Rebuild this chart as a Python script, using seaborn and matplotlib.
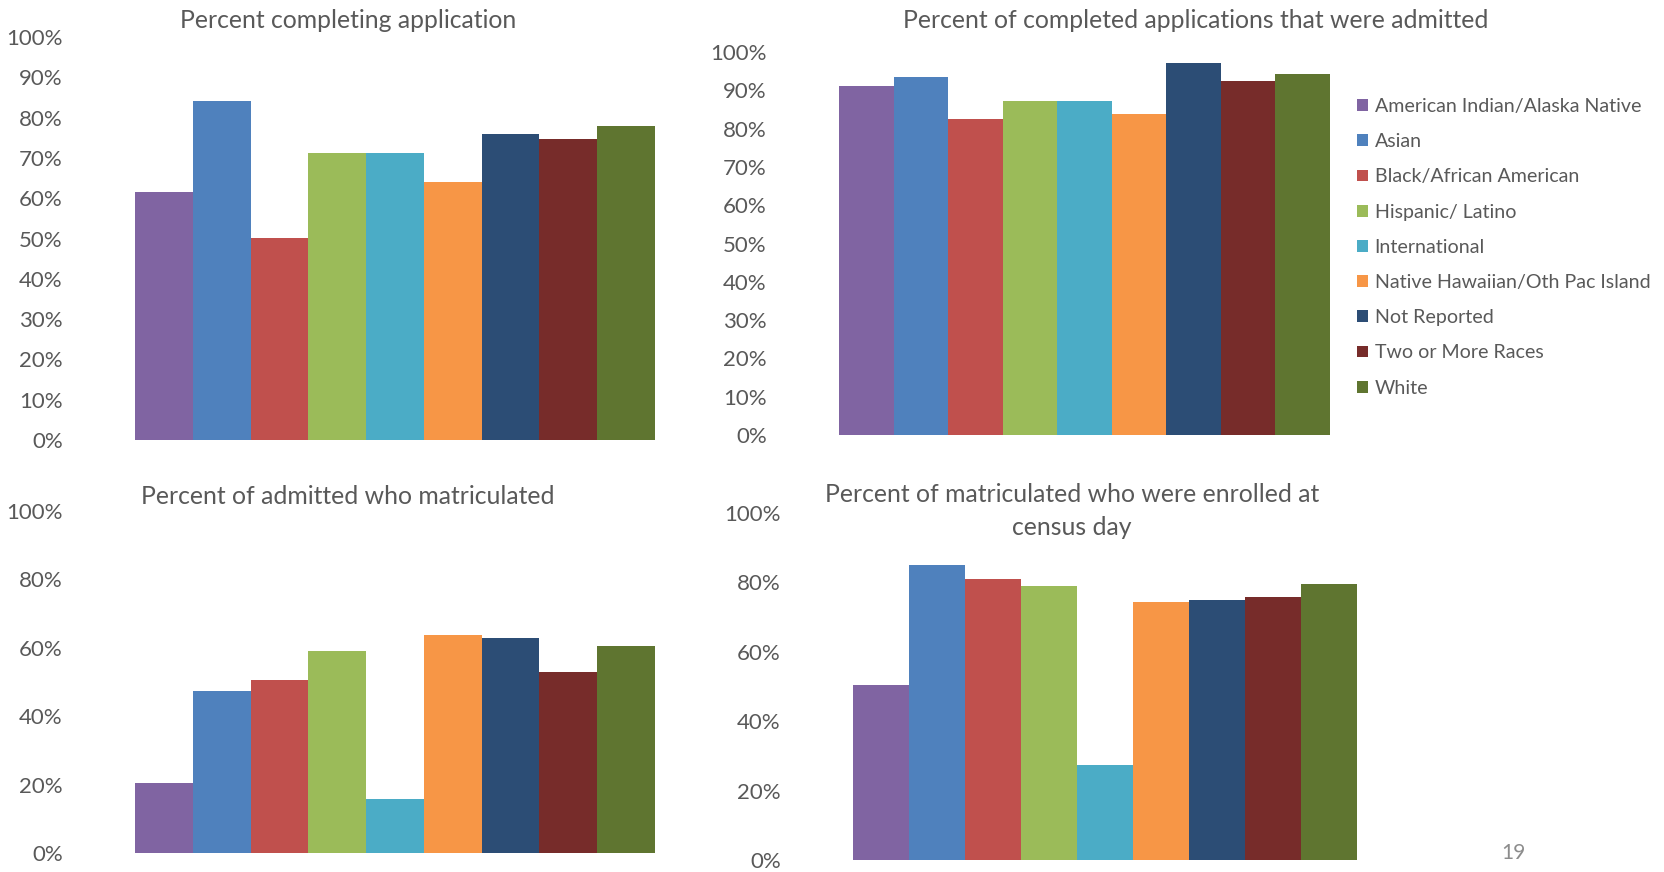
import matplotlib
matplotlib.use("Agg")
import matplotlib.pyplot as plt
import seaborn as sns
import pandas as pd
from matplotlib.ticker import FuncFormatter

categories = [
    "American Indian/Alaska Native",
    "Asian",
    "Black/African American",
    "Hispanic/ Latino",
    "International",
    "Native Hawaiian/Oth Pac Island",
    "Not Reported",
    "Two or More Races",
    "White",
]
colors = ["#8064A2", "#4F81BD", "#C0504D", "#9BBB59", "#4BACC6",
          "#F79646", "#2C4D75", "#772C2A", "#5F7530"]

completing = [61.5, 84.0, 50.2, 71.3, 71.3, 64.1, 76.0, 74.8, 78.0]
admitted = [91.0, 93.6, 82.6, 87.3, 87.3, 83.9, 97.2, 92.3, 94.3]
matriculated = [20.4, 47.5, 50.7, 59.1, 15.7, 63.8, 62.9, 53.0, 60.6]
enrolled = [50.4, 84.9, 81.1, 78.9, 27.5, 74.3, 74.8, 75.7, 79.4]

titles = [
    "Percent completing application",
    "Percent of completed applications that were admitted",
    "Percent of admitted who matriculated",
    "Percent of matriculated who were enrolled at\ncensus day",
]

sns.set_theme(style="white")
plt.rcParams["font.family"] = ["Lato", "DejaVu Sans"]
GRAY = "#595959"

W, H = 1665, 872
fig = plt.figure(figsize=(W / 100, H / 100), dpi=100)
palette = dict(zip(categories, colors))


def make_ax(x0, x1, ybase, ytop):
    return fig.add_axes([x0 / W, 1 - ybase / H, (x1 - x0) / W, (ybase - ytop) / H])


panels = [
    (make_ax(135, 655, 440, 37), completing, 10, (348, 21)),
    (make_ax(839, 1330, 435, 52), admitted, 10, (1196, 21)),
    (make_ax(135, 655, 853, 511), matriculated, 20, (348, 496)),
    (make_ax(853, 1357, 860, 513), enrolled, 20, (1072, 511)),
]

for i, (ax, vals, step, (tx, ty)) in enumerate(panels):
    df = pd.DataFrame({"cat": categories, "val": vals})
    sns.barplot(data=df, x="cat", y="val", hue="cat", palette=palette,
                width=1.0, dodge=False, legend=(i == 1), ax=ax,
                saturation=1, linewidth=0)
    ax.set_xlim(-0.5, len(categories) - 0.5)
    ax.set_ylim(0, 100)
    ax.set_yticks(range(0, 101, step))
    ax.yaxis.set_major_formatter(FuncFormatter(lambda v, p: f"{int(v)}%"))
    ax.tick_params(axis="y", length=0, pad=52, labelsize=16, labelcolor=GRAY)
    ax.set_xticks([])
    ax.set_xlabel("")
    ax.set_ylabel("")
    for sp in ax.spines.values():
        sp.set_visible(False)
    for lab in ax.get_yticklabels():
        lab.set_horizontalalignment("right")
    fig.text(tx / W, 1 - ty / H, titles[i], ha="center", va="center",
             fontsize=17.8, color=GRAY, linespacing=1.55)

ax2 = panels[1][0]
handles, labels = ax2.get_legend_handles_labels()
leg = ax2.legend(handles, labels, loc="upper left",
                 bbox_to_anchor=(1357 / W, 1 - 98 / H),
                 bbox_transform=fig.transFigure, frameon=False,
                 handlelength=0.55, handleheight=0.55, handletextpad=0.35,
                 labelspacing=0.93, fontsize=14.1, borderaxespad=0, borderpad=0)
for t in leg.get_texts():
    t.set_color(GRAY)

fig.text(1513 / W, 1 - 853 / H, "19", ha="center", va="center",
         fontsize=15, color="#8C8C8C")

fig.savefig("out.png", dpi=100, facecolor="white")
